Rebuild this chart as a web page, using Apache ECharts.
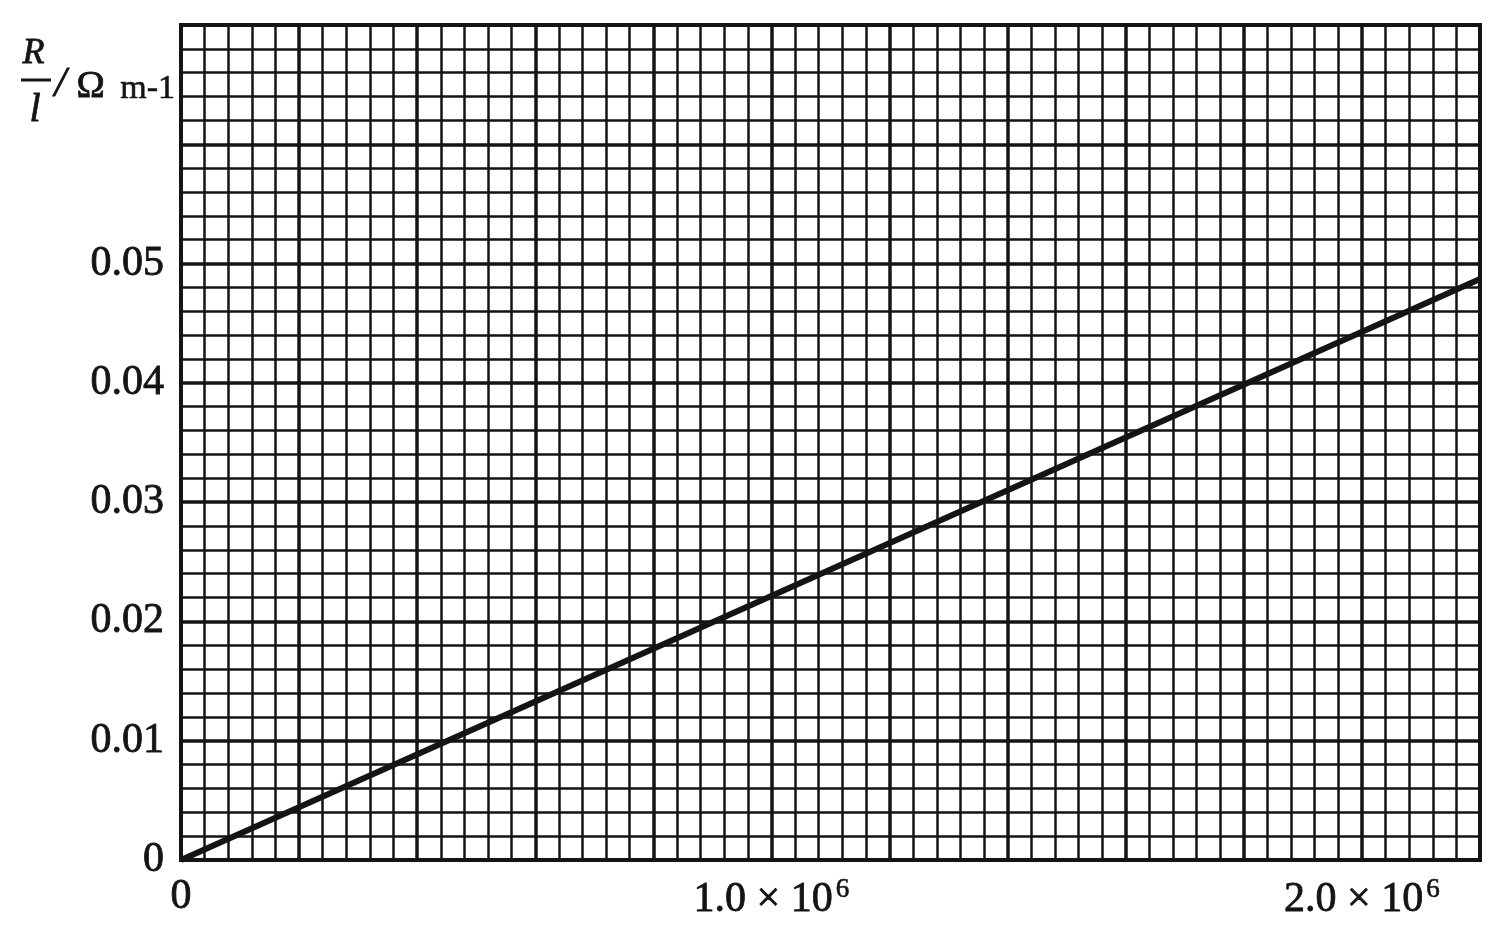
<!DOCTYPE html>
<html>
<head>
<meta charset="utf-8">
<script src="https://cdn.jsdelivr.net/npm/echarts@6/dist/echarts.min.js"></script>
<style>
html,body{margin:0;padding:0;background:#fff;}
#c{width:1496px;height:932px;}
</style>
</head>
<body>
<div id="c"></div>
<script>
// Data
const lineX = [0, 2200000];
const lineY = [0, 0.0487];
const xLabelValues = [0, 1000000, 2000000];
const xLabelTexts = ['0', '1.0 × 10{sup|6}', '2.0 × 10{sup|6}'];
const yLabelValues = [0, 0.01, 0.02, 0.03, 0.04, 0.05];
const yLabelTexts = ['0', '0.01', '0.02', '0.03', '0.04', '0.05'];
const xRange = [0, 2200000];
const yRange = [0, 0.07];

const ink = '#141414';
const serif = '"Liberation Serif","DejaVu Serif",serif';

const chart = echarts.init(document.getElementById('c'), null, {renderer: 'canvas'});

function findLabel(values, texts, v, tol) {
  for (let i = 0; i < values.length; i++) {
    if (Math.abs(values[i] - v) < tol) return texts[i];
  }
  return '';
}

chart.setOption({
  backgroundColor: '#fff',
  animation: false,
  grid: {
    left: 181, right: 16, top: 25, bottom: 72,
    show: true, borderColor: ink, borderWidth: 4, backgroundColor: 'transparent'
  },
  xAxis: {
    type: 'value',
    min: xRange[0], max: xRange[1], interval: 200000,
    axisLine: {show: true, onZero: false, lineStyle: {color: ink, width: 4}},
    axisTick: {show: false},
    splitLine: {show: true, lineStyle: {color: ink, width: 3.5}},
    minorTick: {show: false, splitNumber: 5},
    minorSplitLine: {show: true, lineStyle: {color: ink, width: 2.5}},
    axisLabel: {
      show: true, margin: 16, color: ink, fontFamily: serif, fontSize: 42,
      textBorderColor: ink, textBorderWidth: 0.8,
      formatter: function (v) { return findLabel(xLabelValues, xLabelTexts, v, 1000); },
      rich: {
        sup: {fontFamily: serif, fontSize: 27, color: ink, textBorderColor: ink, textBorderWidth: 0.6,
              verticalAlign: 'top', padding: [0, 0, 20, 3]}
      }
    }
  },
  yAxis: {
    type: 'value',
    min: yRange[0], max: yRange[1], interval: 0.01,
    axisLine: {show: true, onZero: false, lineStyle: {color: ink, width: 4}},
    axisTick: {show: false},
    splitLine: {show: true, lineStyle: {color: ink, width: 3.5}},
    minorTick: {show: false, splitNumber: 5},
    minorSplitLine: {show: true, lineStyle: {color: ink, width: 2.5}},
    axisLabel: {
      show: true, margin: 17, color: ink, fontFamily: serif, fontSize: 42,
      textBorderColor: ink, textBorderWidth: 0.8,
      formatter: function (v) { return findLabel(yLabelValues, yLabelTexts, v, 0.0001); }
    }
  },
  graphic: [
    {type: 'text', left: 22, top: 35, style: {text: 'R', font: 'italic 36px "Liberation Serif"', fill: ink, stroke: ink, lineWidth: 0.8}},
    {type: 'line', shape: {x1: 21, y1: 80, x2: 51, y2: 80}, style: {stroke: ink, lineWidth: 3}},
    {type: 'text', left: 29, top: 90, style: {text: 'l', font: 'italic 40px "Liberation Serif"', fill: ink, stroke: ink, lineWidth: 0.8}},
    {type: 'text', left: 54, top: 64, style: {text: '/', font: 'italic 42px "Liberation Serif"', fill: ink, stroke: ink, lineWidth: 0.8}},
    {type: 'text', left: 76, top: 68, style: {text: 'Ω', font: '38px "Liberation Serif"', fill: ink, stroke: ink, lineWidth: 0.8}},
    {type: 'text', left: 120, top: 72, style: {text: 'm-1', font: '34px "Liberation Serif"', fill: ink, stroke: ink, lineWidth: 0.6}}
  ],
  series: [{
    type: 'line',
    data: lineX.map(function (x, i) { return [x, lineY[i]]; }),
    showSymbol: false,
    lineStyle: {color: ink, width: 6},
    z: 5
  }]
});
</script>
</body>
</html>
